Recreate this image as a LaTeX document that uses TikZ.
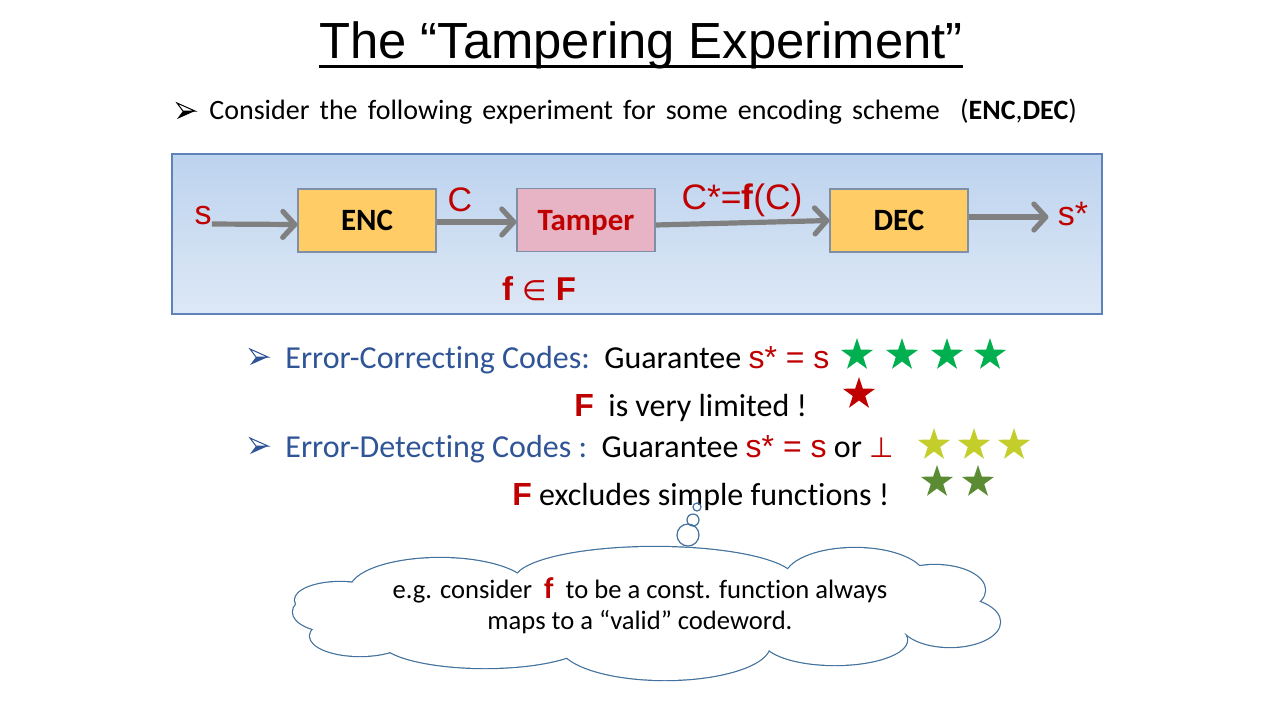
\documentclass[tikz,border=0pt]{standalone}
\usepackage{fontspec}
\setmainfont{Carlito}[Ligatures=NoCommon]
\newfontfamily\introfont{Carlito}[Ligatures=NoCommon,WordSpace=1.6]
\newfontfamily\arialfont{Liberation Sans}
\newfontfamily\symfont{DejaVu Sans}
\usepackage{xcolor}
\usetikzlibrary{arrows.meta,shapes.geometric,positioning}
\definecolor{tred}{HTML}{C00000}
\definecolor{codeblue}{HTML}{2F5597}
\definecolor{flowgray}{HTML}{808080}
\definecolor{boxline}{HTML}{7F8FA6}
\definecolor{encfill}{HTML}{FFCC66}
\definecolor{tampfill}{HTML}{E6B4C4}
\definecolor{frameline}{HTML}{5F82B8}
\definecolor{frametop}{HTML}{BDD3EE}
\definecolor{framebot}{HTML}{DDE8F6}
\definecolor{stargreen}{HTML}{00B050}
\definecolor{staryellow}{HTML}{C3CE2A}
\definecolor{stardark}{HTML}{5B8C34}
\definecolor{cloudline}{HTML}{41719C}
\tikzset{arrowbul/.pic={
		\draw[line width=0.5pt,fill=white] (-9,-8) -- (9,0) -- (-3,0) -- cycle;
		\fill (-9,8) -- (9,0) -- (-3,0) -- cycle;}}
\begin{document}
\begin{tikzpicture}
		[x=0.5pt,y=-0.5pt,
		box/.style={draw=boxline,line width=0.6pt,minimum width=69pt,minimum height=31.5pt,text height=10pt,text depth=0pt,font=\fontsize{15.5}{18}\selectfont\bfseries},
		flow/.style={draw=flowgray,line width=2.6pt,-{Straight Barb[length=6pt,width=13pt,round]}},
		lbl/.style={text=tred,font=\arialfont\fontsize{17}{20}\selectfont,inner sep=0},
		txt/.style={anchor=base west,inner sep=0,font=\fontsize{16}{19}\selectfont},
		starnode/.style={star,star points=5,star point ratio=2.6,inner sep=0,minimum size=#1}]
		\useasboundingbox[fill=white] (0,0) rectangle (1280,720);
		
		\node[anchor=base,inner sep=0,font=\arialfont\fontsize{25.4}{30}\selectfont] (title) at (641,58) {The “Tampering Experiment”};
		\draw[line width=1.5pt] ([yshift=-4pt]title.base west) -- ([yshift=-4pt]title.base east);
		
		\pic at (186,111) {arrowbul};
		\node[txt,font=\introfont\fontsize{14}{16}\selectfont] (intro) at (209,119) {Consider the following experiment for some encoding scheme\ \ (\textbf{ENC},\textbf{DEC})};
		
		\path[draw=frameline,line width=0.6pt,top color=frametop,bottom color=framebot] (172,154) rectangle (1102,314);
		\node[box,fill=encfill] (enc) at (367,220.5) {ENC};
		\node[box,fill=tampfill,text=tred] (tamper) at (586,220) {Tamper};
		\node[box,fill=encfill] (dec) at (899,220.5) {DEC};
		\node[lbl] (s) at (203,216) {s};
		\node[lbl] (c) at (460,200) {C};
		\node[lbl,font=\arialfont\fontsize{17.7}{20}\selectfont] (cstar) at (742,200) {C*=\textbf{f}(C)};
		\node[lbl] (sstar) at (1073,214) {s*};
		\node[lbl,font=\arialfont\bfseries\fontsize{16.5}{18}\selectfont] (fF) at (539,289) {f {\symfont\mdseries\fontsize{14}{15}\selectfont ∈} F};
		
		\draw[flow] ([yshift=-4pt]s.east) -- ([yshift=-2pt]enc.west);
		\draw[flow] ([yshift=-0.75pt]enc.east) -- ([yshift=-1pt]tamper.west);
		\draw[flow] ([yshift=-2.5pt]tamper.east) -- (dec.west);
		\draw[flow] ([yshift=1.75pt]dec.east) -- ([yshift=1.75pt,xshift=-4.5pt]dec.east -| sstar.west);
		
		\pic[codeblue] at (259,357) {arrowbul};
		\node[txt] (ecc) at (285,368) {{\color{codeblue}Error-Correcting Codes:}\ \ Guarantee {\color{tred}\arialfont s* = s}};
		\node[txt] (lim) at (574,416) {{\color{tred}\arialfont\bfseries F}\ \ is very limited !};
		\pic[codeblue] at (259,446) {arrowbul};
		\node[txt] (edc) at (285,457) {{\color{codeblue}Error-Detecting Codes :}\ \ Guarantee {\color{tred}\arialfont s* = s} or {\color{tred}\symfont\fontsize{14}{16}\selectfont ⊥}};
		\node[txt] (excl) at (512,505) {{\color{tred}\arialfont\bfseries F} excludes simple functions !};
		
		\foreach \x in {857,902,947,990}
		\node[starnode=17pt,fill=stargreen] (g\x) at (\x,355) {};
		\node[starnode=17pt,fill=tred] (r1) at (859,394) {};
		\foreach \x in {934,974,1014}
		\node[starnode=17pt,fill=staryellow] (y\x) at (\x,445) {};
		\foreach \x in {937,978}
		\node[starnode=17pt,fill=stardark] (d\x) at (\x,482) {};
		
		\foreach \cx/\cy/\rx/\ry in {335/612/42/20,360/636/50/20,485/640/105/28,665/645/105/35,835/640/72/25,950/622/50/25,935/590/50/25,855/578/70/30,655/580/140/33,440/590/90/32,340/600/45/18}
		\draw[cloudline,line width=1.2pt] (\cx,\cy) ellipse [x radius=\rx,y radius=\ry];
		\foreach \cx/\cy/\rx/\ry in {335/612/42/20,360/636/50/20,485/640/105/28,665/645/105/35,835/640/72/25,950/622/50/25,935/590/50/25,855/578/70/30,655/580/140/33,440/590/90/32,340/600/45/18,646/613/300/40}
		\fill[white] (\cx,\cy) ellipse [x radius=\rx,y radius=\ry];
		\node[circle,draw=cloudline,line width=0.6pt,inner sep=0,minimum size=11pt] (p3) at (688,535) {};
		\node[circle,draw=cloudline,line width=0.6pt,inner sep=0,minimum size=6pt] (p2) at (693,520) {};
		\node[circle,draw=cloudline,line width=0.6pt,inner sep=0,minimum size=4pt] (p1) at (697,507) {};
		\node[align=center,inner sep=0,font=\fontsize{13.3}{15.5}\selectfont] (note) at (640,606) {e.g. consider\ \ {\color{tred}\bfseries\fontsize{15}{15.5}\selectfont f}\ \ to be a const. function always\\ maps to a “valid” codeword.};
		\end{tikzpicture}
\end{document}
